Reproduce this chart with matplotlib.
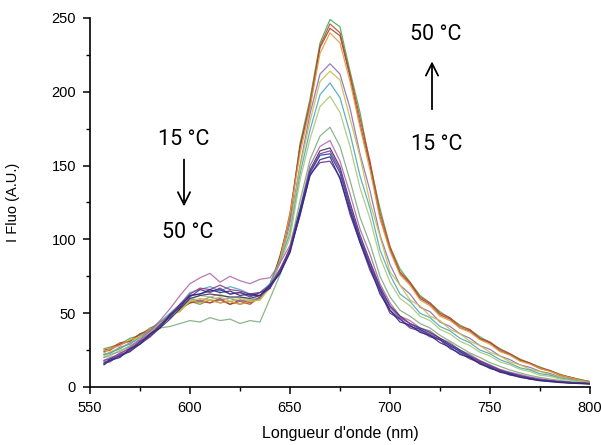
import matplotlib
matplotlib.use("Agg")
import matplotlib.pyplot as plt
from matplotlib.ticker import MultipleLocator

# ---------------- data ----------------
wavelength = [557, 560, 565, 570, 575, 580, 585, 590, 595, 600,
              605, 610, 615, 620, 625, 630, 635, 640, 645, 650,
              655, 660, 665, 670, 675, 680, 685, 690, 695, 700,
              705, 710, 715, 720, 725, 730, 735, 740, 745, 750,
              755, 760, 765, 770, 775, 780, 785, 790, 795, 800]

s01 = [15,18,20,26,29,36,40,49,54,62,63,66,64,65,62,63,62,69,77,91,117,143,154,156,141,119,98,81,63,52,44,42,37,35,30,27,22,20,15.5,13,10,8.5,6.5,5.5,4.2,3.8,3,2.6,2.3,2]
s02 = [17,17,22,24,31,34,42,47,56,61,66,64,67,63,64,61,64,67,79,93,116,144,152,153,142,117,98,79,65,50,46,40,38,34,32,26,23,19,16.5,12.5,11,8,7.2,5.2,4.6,3.6,3.3,2.7,2.5,2.3]
s03 = [16,19,21,25,30,35,41,48,55,62,63,65,66,63,64,62,62,68,77,92,119,145,157,158,145,121,100,82,66,52,46,41,39,35,32,28,24,20,16,13.5,10.5,9,7,5.8,4.5,4,3.3,2.9,2.5,2.2]
s04 = [18,19,23,26,31,36,42,49,56,63,67,66,69,66,65,63,64,69,80,93,118,146,158,160,147,123,101,84,67,54,47,43,39,36,32,28,24,20.5,17,14,11,9.2,7.5,6,4.8,4.1,3.4,3,2.6,2.3]
s05 = [16,18,21,24,29,34,40,46,53,60,62,63,62,61,61,60,62,67,79,94,120,147,160,162,149,125,103,85,68,55,48,43,40,37,33,29,25,21,17.5,14.5,11.5,9.5,7.7,6.2,5,4.2,3.6,3.1,2.7,2.4]
s06 = [18,20,22,27,32,38,45,53,62,70,74,77,71,75,72,70,73,74,84,96,121,150,163,167,153,131,107,90,70,57,48,45,40,38,33,30,25,22,18,15,12,10,8.5,6.8,5.6,4.7,3.8,3.2,2.7,2.4]
s07 = [20,22,24,28,32,36,40,41,43,45,44,47,45,46,43,45,44,60,76,95,126,154,170,176,163,140,115,97,75,61,52,48,43,40,35,31,27,23,20,16.5,14,11.5,9.6,7.8,6.5,5.4,4.4,3.6,3,2.5]
s08 = [20,21,25,27,33,36,43,47,54,59,62,61,63,60,61,59,62,67,84,101,140,168,190,197,186,163,135,114,88,71,60,55,48,45,39,36,31,28,23.5,21,17,15,12,10.5,8,7.2,5.4,4.6,3.5,2.9]
s09 = [22,23,26,30,33,38,44,50,56,64,66,68,65,68,66,63,64,70,85,104,144,174,198,206,196,172,143,121,93,76,63,58,50,47,41,38,33,30,25,22.5,18.5,16,13,11.5,9,8,6,4.9,3.7,3]
s10 = [21,24,26,30,34,37,43,48,52,58,60,59,61,58,60,58,59,67,86,107,149,180,207,214,208,182,156,125,102,78,69,59,55,48,45,39,36,31,28,23.5,21,17,15,12,10.5,8.4,6.8,5.1,4.2,3]
s11 = [22,23,27,29,34,38,42,49,53,60,58,61,59,60,58,59,60,69,84,111,150,185,212,219,212,189,158,133,103,83,69,63,54,51,44,41,36,33,28,25.5,21,18.5,15,13.3,10.6,9.2,6.8,5.6,4.1,3.2]
s12 = [23,26,28,32,34,39,42,49,51,59,57,59,57,58,56,58,59,69,86,117,158,189,226,240,233,207,176,147,114,92,76,69,59,55,48,45,40,37,32,29,24,21.5,17.5,15.5,12.5,10.6,8,6.4,4.7,3.5]
s13 = [24,25,29,31,36,38,44,47,53,57,59,57,60,56,59,57,61,67,89,115,163,190,230,243,238,210,178,150,115,93,77,70,60,56,49,46,40,38,32.5,30,24.5,22,18,16,12.5,11,7.8,6.6,4.6,3.6]
s14 = [25,26,30,31,36,39,44,48,53,57,58,57,59,56,58,56,61,68,87,118,162,193,231,246,240,212,182,153,118,95,78,71,61,57,50,47,41,39,33,30.5,25.5,22.5,18.5,16.3,13,11.2,8.3,6.7,4.9,3.6]
s15 = [26,27,29,33,35,40,43,49,52,58,56,59,57,58,56,58,60,70,88,114,165,195,233,249,244,214,186,151,121,95,80,71,62,57,51,46.5,42,38.5,34,30,26,22.5,19,16,13.6,11,8.7,6.5,5.2,3.6]

series = [s15, s14, s13, s12, s11, s10, s09, s08, s07, s06, s05, s04, s03, s02, s01]
colors = ['#45b050', '#c8453a', '#9c4a2e', '#e39b3e', '#8a70b5', '#c8bf4a',
          '#4fa8b8', '#a8c878', '#7fae7f', '#b06aa8', '#3c3566', '#8b3a8b',
          '#2340b0', '#6b2f8f', '#2d2a7a']

x_ticks = [550, 600, 650, 700, 750, 800]
y_ticks = [0, 50, 100, 150, 200, 250]

# ---------------- figure ----------------
plt.rcParams['font.family'] = ['Liberation Sans', 'DejaVu Sans']
fig = plt.figure(figsize=(6.01, 4.45), dpi=100)
ax = fig.add_axes([90/601, 1-387/445, 500/601, 369/445])

for ys, c in zip(series, colors):
    ax.plot(wavelength, ys, color=c, lw=0.9, alpha=0.9)

ax.set_xlim(550, 800)
ax.set_ylim(0, 250)
ax.set_xticks(x_ticks)
ax.set_yticks(y_ticks)
ax.xaxis.set_minor_locator(MultipleLocator(25))
ax.yaxis.set_minor_locator(MultipleLocator(25))
for s in ['top', 'right']:
    ax.spines[s].set_visible(False)
for s in ['left', 'bottom']:
    ax.spines[s].set_linewidth(1.2)
ax.tick_params(which='major', direction='out', length=5, width=1.1, labelsize=10.5, pad=5)
ax.tick_params(which='minor', direction='out', length=3, width=1.0)

ax.set_xlabel("Longueur d'onde (nm)", fontsize=11.5, labelpad=8)
ax.set_ylabel("I Fluo (A.U.)", fontsize=10.5, labelpad=23)

afont = dict(fontsize=15.5, family=['Liberation Sans Narrow', 'Roboto', 'DejaVu Sans'],
             ha='center', va='center')
ax.text(597, 168, "15 °C", **afont)
ax.annotate('', xy=(597, 120.5), xytext=(597, 156),
            arrowprops=dict(arrowstyle='->', lw=1.3, color='black', mutation_scale=22))
ax.text(599, 104.7, "50 °C", **afont)

ax.text(723, 238.5, "50 °C", **afont)
ax.annotate('', xy=(721, 222.5), xytext=(721, 186.3),
            arrowprops=dict(arrowstyle='->', lw=1.3, color='black', mutation_scale=22))
ax.text(723.5, 164.6, "15 °C", **afont)

fig.savefig("out.png", dpi=100)
